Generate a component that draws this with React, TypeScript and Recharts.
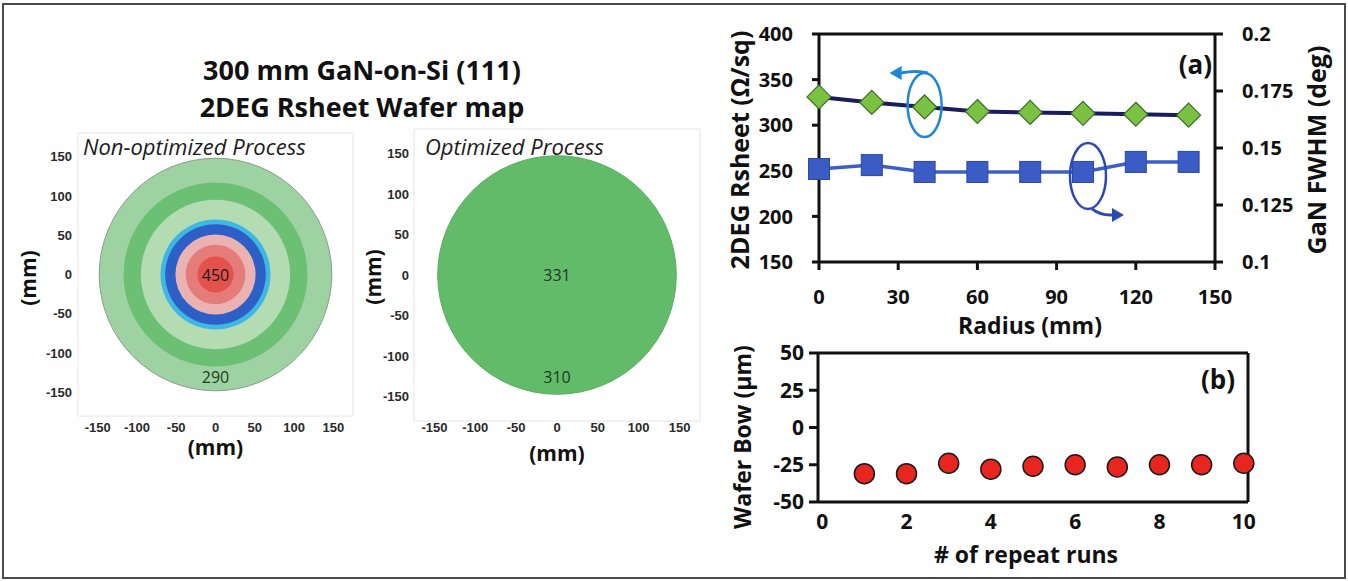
import React from 'react';
import { LineChart, Line, ScatterChart, Scatter, XAxis, YAxis, ReferenceDot, ReferenceLine, Label } from 'recharts';

// ---- panel (a): radial profile ----
const radiusMm = [0, 20, 40, 60, 80, 100, 120, 140];
const rsheetOhm = [331, 325, 320, 315, 314, 313, 312, 311];
const fwhmDeg = [0.1408, 0.1425, 0.1395, 0.1395, 0.1395, 0.1395, 0.1439, 0.1439];
const radiusTicks = [0, 30, 60, 90, 120, 150];
const rsheetTicks = [150, 200, 250, 300, 350, 400];
const fwhmTicks = [0.1, 0.125, 0.15, 0.175, 0.2];

// ---- panel (b): wafer bow ----
const runNo = [1, 2, 3, 4, 5, 6, 7, 8, 9, 10];
const bowUm = [-31, -31, -24, -28, -26, -25, -26.5, -25, -25, -24];
const runTicks = [0, 2, 4, 6, 8, 10];
const runDomain = [-0.1, 10.1];
const bowTicks = [-50, -25, 0, 25, 50];

// ---- wafer maps (mm) ----
const mapTicks = [-150, -100, -50, 0, 50, 100, 150];
const mapXDomain = [-175, 175];
const mapYDomain = [-180, 180];
const nonOptRingR = [148, 117, 95, 70, 64, 51, 38, 23];
const nonOptRingColor = ['#9fd2a2', '#6cc074', '#b4dcb3', '#3fb7e3', '#2d5fc7', '#eab3b2', '#e67c7a', '#e4524e'];
const nonOptLabelY = [0, -130];
const nonOptLabelText = ['450', '290'];
const optRingR = [146];
const optRingColor = ['#62bb69'];
const optLabelY = [0, -126];
const optLabelText = ['331', '310'];

const FONT = '"Open Sans", sans-serif';
const INK = '#111';

const profileRows = radiusMm.map((r, i) => ({ radius: r, rsheet: rsheetOhm[i], fwhm: fwhmDeg[i] }));
const bowRows = runNo.map((n, i) => ({ run: n, bow: bowUm[i] }));
const nonOptRings = nonOptRingR.map((r, i) => ({ x: 0, y: 0, r, color: nonOptRingColor[i] }));
const optRings = optRingR.map((r, i) => ({ x: 0, y: 0, r, color: optRingColor[i] }));
const nonOptLabels = nonOptLabelY.map((y, i) => ({ x: 0, y, text: nonOptLabelText[i], color: i === 0 ? '#1a1a1a' : '#1d3a22' }));
const optLabels = optLabelY.map((y, i) => ({ x: 0, y, text: optLabelText[i], color: '#1d3a22' }));

// label content helpers (positions relative to the axis / line box)
const centerTitle = (text: string, dx: number, dy: number, size: number, rotate = false) => (props: any) => {
  const vb = props.viewBox || { x: 0, y: 0, width: 0, height: 0 };
  const cx = vb.x + vb.width / 2 + dx;
  const cy = vb.y + vb.height / 2 + dy;
  return (
    <text x={cx} y={cy} textAnchor="middle" dominantBaseline="central"
      transform={rotate ? `rotate(-90 ${cx} ${cy})` : undefined}
      fontFamily={FONT} fontWeight={700} fontSize={size} fill={INK}>{text}</text>
  );
};

const cornerText = (text: string, dx: number, dy: number, size: number, anchor: 'start' | 'end', italic = false) => (props: any) => {
  const vb = props.viewBox || { x: 0, y: 0, width: 0, height: 0 };
  const x = anchor === 'end' ? vb.x + vb.width + dx : vb.x + dx;
  return (
    <text x={x} y={vb.y + dy} textAnchor={anchor} fontFamily={FONT}
      fontWeight={italic ? 400 : 700} fontStyle={italic ? 'italic' : 'normal'}
      fontSize={size} fill={italic ? '#1c1c1c' : INK}>{text}</text>
  );
};

const Diamond = (p: any) => {
  const { cx, cy, index } = p;
  if (cx == null || cy == null) return <g key={index} />;
  return <polygon key={index} points={`${cx},${cy - 12} ${cx + 12},${cy} ${cx},${cy + 12} ${cx - 12},${cy}`}
    fill="#7cc242" stroke="#3b6b2b" strokeWidth={1.2} />;
};

const Square = (p: any) => {
  const { cx, cy, index } = p;
  if (cx == null || cy == null) return <g key={index} />;
  return <rect key={index} x={cx - 10.5} y={cy - 10.5} width={21} height={21} fill="#3b5cc5" stroke="#2a47a8" strokeWidth={1} />;
};

// annotation: ellipse + arrow to the left axis
const LeftAxisHint = (p: any) => {
  const { cx, cy } = p;
  const c = '#1f86d4';
  return (
    <g>
      <ellipse cx={cx} cy={cy - 2} rx={17} ry={32} fill="none" stroke={c} strokeWidth={2.5} />
      <path d={`M${cx + 3},${cy - 34} Q${cx - 8},${cy - 37} ${cx - 24},${cy - 34}`} stroke={c} strokeWidth={3} fill="none" />
      <polygon points={`${cx - 35},${cy - 34} ${cx - 23},${cy - 41} ${cx - 23},${cy - 27}`} fill={c} />
    </g>
  );
};

// annotation: ellipse + arrow to the right axis
const RightAxisHint = (p: any) => {
  const { cx, cy } = p;
  const c = '#2c48b6';
  return (
    <g>
      <ellipse cx={cx + 5} cy={cy + 4} rx={18} ry={33} fill="none" stroke={c} strokeWidth={2.5} />
      <path d={`M${cx + 9},${cy + 37} Q${cx + 18},${cy + 44} ${cx + 30},${cy + 43}`} stroke={c} strokeWidth={3} fill="none" />
      <polygon points={`${cx + 41},${cy + 43} ${cx + 29},${cy + 36} ${cx + 29},${cy + 50}`} fill={c} />
    </g>
  );
};

const ringShape = (pxPerMm: number, edge: string) => (p: any) => (
  <circle cx={p.cx} cy={p.cy} r={p.payload.r * pxPerMm} fill={p.payload.color}
    stroke={p.payload.r > 140 ? edge : 'none'} strokeWidth={1} />
);

const mapLabelShape = (p: any) => (
  <text x={p.cx} y={p.cy} textAnchor="middle" dominantBaseline="central" fontFamily={FONT}
    fontSize={16} fill={p.payload.color}>{p.payload.text}</text>
);

const bowDot = (p: any) => <circle cx={p.cx} cy={p.cy} r={10} fill="#e8261f" stroke="#1a1a1a" strokeWidth={1.5} />;

const mapTick = { fontFamily: '"Liberation Sans", Arial, sans-serif', fontWeight: 700, fontSize: 13, fill: '#2a2a2a' };
const bigTick = { fontFamily: FONT, fontWeight: 700, fontSize: 20, fill: INK };
const faint = { stroke: '#e4e4e4', strokeWidth: 1 };
const black = { stroke: INK, strokeWidth: 3 };

interface WaferMapProps {
  width: number;
  height: number;
  margin: { top: number; right: number; bottom: number; left: number };
  yWidth: number;
  xHeight: number;
  xMargin: number;
  yMargin: number;
  pxPerMm: number;
  rings: any[];
  labels: any[];
  edge: string;
  subtitle: string;
  subDx: number;
  subDy: number;
  yTitleDx: number;
  yTitleDy: number;
  xTitleDy: number;
}

const WaferMap: React.FC<WaferMapProps> = (m) => (
  <ScatterChart width={m.width} height={m.height} margin={m.margin}>
    <XAxis dataKey="x" type="number" domain={mapXDomain} ticks={mapTicks} interval={0} height={m.xHeight}
      axisLine={faint} tickLine={false} tickSize={0} tickMargin={m.xMargin} tick={mapTick}>
      <Label content={centerTitle('(mm)', 0, m.xTitleDy, 21)} />
    </XAxis>
    <YAxis dataKey="y" type="number" domain={mapYDomain} ticks={mapTicks} interval={0} width={m.yWidth}
      axisLine={faint} tickLine={false} tickSize={0} tickMargin={m.yMargin} tick={mapTick}>
      <Label content={centerTitle('(mm)', m.yTitleDx, m.yTitleDy, 21, true)} />
    </YAxis>
    <Scatter data={m.rings} shape={ringShape(m.pxPerMm, m.edge)} isAnimationActive={false} />
    <Scatter data={m.labels} shape={mapLabelShape} isAnimationActive={false} />
    <ReferenceLine y={mapYDomain[1]} stroke="#e4e4e4" strokeWidth={1}
      label={cornerText(m.subtitle, m.subDx, m.subDy, 22, 'start', true)} />
    <ReferenceLine x={mapXDomain[1]} stroke="#e4e4e4" strokeWidth={1} />
  </ScatterChart>
);

export default function App() {
  return (
    <div style={{ position: 'absolute', left: 0, top: 0, width: 1348, height: 581, background: '#fff', overflow: 'hidden' }}>
      <svg width={1348} height={581} style={{ position: 'absolute', left: 0, top: 0 }}>
        <rect x={3} y={4} width={1342} height={574} fill="none" stroke="#4a4a4a" strokeWidth={2} />
        <text x={362} y={80} textAnchor="middle" fontFamily={FONT} fontWeight={700} fontSize={27} fill={INK}>300 mm GaN-on-Si (111)</text>
        <text x={362} y={117} textAnchor="middle" fontFamily={FONT} fontWeight={700} fontSize={27} fill={INK}>2DEG Rsheet Wafer map</text>
      </svg>

      <div style={{ position: 'absolute', left: 0, top: 120 }}>
        <WaferMap width={370} height={350} margin={{ top: 13, right: 17, bottom: 0, left: 0 }}
          yWidth={78} xHeight={54} xMargin={7} yMargin={6} pxPerMm={275 / 350}
          rings={nonOptRings} labels={nonOptLabels} edge="#8c9c8e"
          subtitle="Non-optimized Process" subDx={5} subDy={22}
          yTitleDx={-11} yTitleDy={3.5} xTitleDy={4} />
      </div>

      <div style={{ position: 'absolute', left: 350, top: 120 }}>
        <WaferMap width={360} height={350} margin={{ top: 9, right: 10, bottom: 0, left: 0 }}
          yWidth={64} xHeight={49} xMargin={2} yMargin={5} pxPerMm={286 / 350}
          rings={optRings} labels={optLabels} edge="#5aae62"
          subtitle="Optimized Process" subDx={11} subDy={26}
          yTitleDx={-9} yTitleDy={2} xTitleDy={7} />
      </div>

      <div style={{ position: 'absolute', left: 700, top: 10 }}>
        <LineChart width={640} height={330} data={profileRows} margin={{ top: 24, right: 0, bottom: 0, left: 0 }}>
          <XAxis dataKey="radius" type="number" domain={[0, 150]} ticks={radiusTicks} interval={0} height={78}
            axisLine={black} tickLine={black} tickSize={8} tickMargin={20} tick={bigTick}>
            <Label content={centerTitle('Radius (mm)', 13, 24, 23)} />
          </XAxis>
          <YAxis yAxisId="left" type="number" domain={[150, 400]} ticks={rsheetTicks} interval={0} width={119}
            axisLine={black} tickLine={black} tickSize={7} tickMargin={19} tick={bigTick}>
            <Label content={centerTitle('2DEG Rsheet (Ω/sq)', -21, 2, 25, true)} />
          </YAxis>
          <YAxis yAxisId="right" orientation="right" type="number" domain={[0.1, 0.2]} ticks={fwhmTicks} interval={0}
            width={125} axisLine={black} tickLine={black} tickSize={8} tickMargin={19} tick={bigTick}
            tickFormatter={(v: number) => String(v)}>
            <Label content={centerTitle('GaN FWHM (deg)', 38, 2, 25, true)} />
          </YAxis>
          <ReferenceLine yAxisId="left" y={rsheetTicks[rsheetTicks.length - 1]} stroke={INK} strokeWidth={3}
            label={cornerText('(a)', -3, 40, 26, 'end')} />
          <Line yAxisId="right" type="linear" dataKey="fwhm" stroke="#3c5ec6" strokeWidth={3.5}
            dot={Square} activeDot={false} isAnimationActive={false} />
          <Line yAxisId="left" type="linear" dataKey="rsheet" stroke="#1a1d5c" strokeWidth={4}
            dot={Diamond} activeDot={false} isAnimationActive={false} />
          <ReferenceDot yAxisId="left" x={radiusMm[2]} y={rsheetOhm[2]} r={0} shape={LeftAxisHint} />
          <ReferenceDot yAxisId="right" x={radiusMm[5]} y={fwhmDeg[5]} r={0} shape={RightAxisHint} />
        </LineChart>
      </div>

      <div style={{ position: 'absolute', left: 700, top: 330 }}>
        <ScatterChart width={640} height={251} margin={{ top: 23, right: 92, bottom: 0, left: 0 }}>
          <XAxis dataKey="run" type="number" domain={runDomain} ticks={runTicks} interval={0} height={79}
            axisLine={black} tickLine={false} tickSize={0} tickMargin={12} tick={{ ...bigTick, fontSize: 21 }}>
            <Label content={centerTitle('# of repeat runs', -7, 12.5, 23)} />
          </XAxis>
          <YAxis dataKey="bow" type="number" domain={[-50, 50]} ticks={bowTicks} interval={0} width={118}
            axisLine={black} tickLine={black} tickSize={9} tickMargin={5} tick={{ ...bigTick, fontSize: 21 }}>
            <Label content={centerTitle('Wafer Bow (μm)', -17, 9.5, 23, true)} />
          </YAxis>
          <ReferenceLine y={bowTicks[bowTicks.length - 1]} stroke={INK} strokeWidth={3}
            label={cornerText('(b)', -13, 36, 26, 'end')} />
          <ReferenceLine x={runDomain[1]} stroke={INK} strokeWidth={3} />
          <Scatter data={bowRows} shape={bowDot} isAnimationActive={false} />
        </ScatterChart>
      </div>
    </div>
  );
}
